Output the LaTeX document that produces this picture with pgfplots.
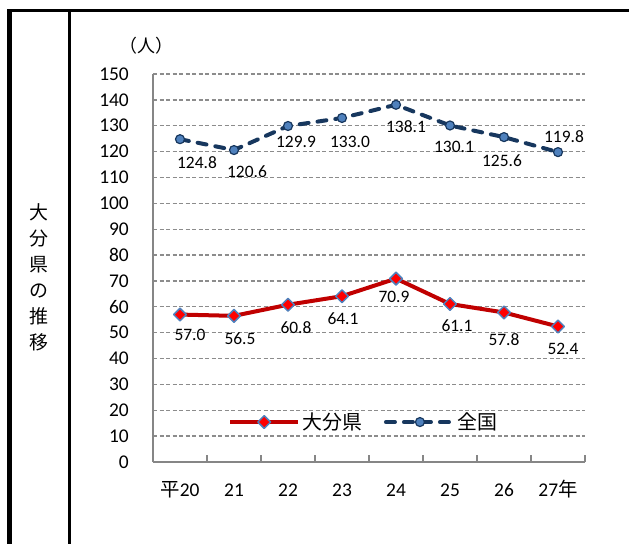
\documentclass[border=0pt]{standalone}
\usepackage{fontspec}
\setmainfont{Carlito}
\newfontfamily\cjk{Noto Sans CJK JP}
\usepackage{pgfplots}
\usepackage{pgfplotstable}
\pgfplotsset{compat=1.18}
\pgfkeys{/pgf/number format/assume math mode=true}
\definecolor{oitared}{HTML}{C00000}
\definecolor{diafill}{HTML}{FF0000}
\definecolor{markedge}{HTML}{4F81BD}
\definecolor{navy}{HTML}{17375E}
\definecolor{gridgray}{HTML}{8C8C8C}
\definecolor{axisgray}{HTML}{868686}

\pgfplotstableread{
x y dx dy
0 57.0 10 -20
1 56.5 6 -23
2 60.8 8 -23
3 64.1 1 -22
4 70.9 -2 -18
5 61.1 7 -22
6 57.8 0 -27
7 52.4 5 -22
}\oita

\pgfplotstableread{
x y dx dy
0 124.8 17 -23
1 120.6 13 -22
2 129.9 8 -16
3 133.0 8 -24
4 138.1 10 -22
5 130.1 4 -21
6 125.6 -2 -24
7 119.8 6 16
}\zenkoku

\begin{document}
\begin{tikzpicture}
\path[use as bounding box] (0bp,0bp) rectangle (629bp,-544bp);
\draw[line width=3bp] (7.4bp,-10.7bp) -- (629bp,-10.7bp);
\draw[line width=4.7bp] (9.7bp,-9.2bp) -- (9.7bp,-544bp);
\draw[line width=3bp] (69.2bp,-10.7bp) -- (69.2bp,-544bp);
\node[align=center, inner sep=0pt, font=\cjk\fontsize{19}{26.2}\selectfont] at (39bp,-277.5bp) {大\\分\\県\\の\\推\\移};
\node[inner sep=0pt, font=\cjk\fontsize{18}{20}\selectfont] at (146.7bp,-45.7bp) {（人）};
\begin{axis}[
  at={(153bp,-462bp)}, anchor=south west,
  scale only axis, width=432bp, height=388bp,
  xmin=-0.5, xmax=7.5, ymin=0, ymax=150,
  axis lines=left,
  axis line style={axisgray, line width=1.5bp, -},
  xtick={0,...,7},
  xticklabels={{\cjk 平}20,21,22,23,24,25,26,27{\cjk 年}},
  ytick={0,10,...,150},
  major tick length=0pt,
  extra x ticks={0.5,1.5,...,7.5},
  extra x tick labels={},
  extra x tick style={major tick length=7bp, tick align=inside, tick style={axisgray, line width=1.5bp}},
  ymajorgrids,
  major grid style={gridgray, dash pattern=on 4bp off 2.5bp, line width=1.3bp},
  tick label style={font=\fontsize{19.5}{20}\selectfont},
  yticklabel style={anchor=east, inner sep=0pt, xshift=-24bp},
  xticklabel style={anchor=base, inner sep=0pt, yshift=-34.5bp},
  legend style={at={(0.1736,0.103)}, anchor=west, draw=none, fill=none,
    inner sep=0pt, font=\cjk\fontsize{20}{22}\selectfont,
    /tikz/every even column/.append style={column sep=20bp}},
  legend columns=2,
  legend cell align=left,
  legend image code/.code={\draw[mark repeat=2,mark phase=2,#1] plot coordinates {(0bp,0bp) (34bp,0bp) (68bp,0bp)};},
  visualization depends on={\thisrow{dx} \as \dx},
  visualization depends on={\thisrow{dy} \as \dy},
  nodes near coords={\pgfmathprintnumber[fixed,fixed zerofill,precision=1]{\pgfplotspointmeta}},
  every node near coord/.append style={anchor=center, inner sep=0pt, xshift=\dx bp, yshift=\dy bp, font=\fontsize{17.5}{18}\selectfont, text=black},
]
\addplot[color=oitared, line width=4bp, line join=round, mark=square*, mark size=4.5bp,
  mark options={fill=diafill, draw=markedge, line width=1.5bp, rotate=45, solid}]
  table[x=x, y=y] {\oita};
\addlegendentry{大分県}
\addplot[color=navy, line width=4bp, line cap=round, line join=round, dash pattern=on 9bp off 9bp, mark=*, mark size=4.5bp,
  mark options={fill=markedge, draw=navy, line width=1.2bp, solid}]
  table[x=x, y=y] {\zenkoku};
\addlegendentry{全国}
\end{axis}
\end{tikzpicture}
\end{document}
